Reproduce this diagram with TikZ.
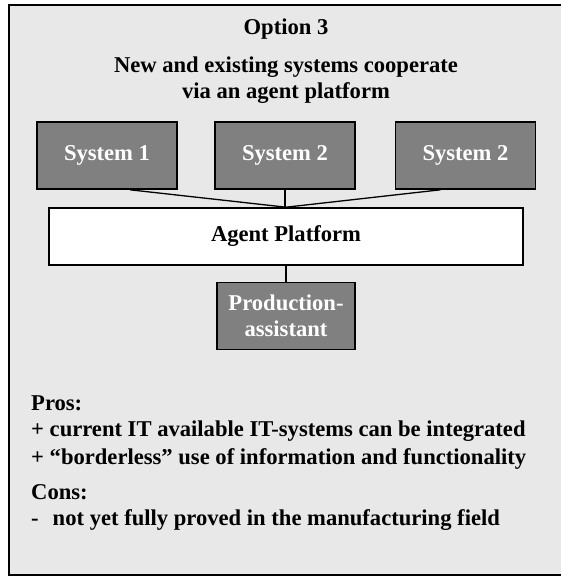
\documentclass[tikz,border=0pt]{standalone}
\usepackage{fontspec}
\setmainfont{Liberation Serif}
\usepackage{xcolor}
\usetikzlibrary{positioning}

\definecolor{panelgray}{HTML}{E8E8E8}
\definecolor{boxgray}{HTML}{808080}

\begin{document}
\begin{tikzpicture}[
  x=1pt, y=-1pt,
  font=\bfseries\fontsize{22.6}{26}\selectfont,
  sysbox/.style={draw, line width=1.6pt, fill=boxgray, text=white, align=center, minimum width=140pt, minimum height=67pt, inner sep=0pt},
  platbox/.style={draw, line width=1.6pt, fill=white, minimum width=474pt, minimum height=57pt, inner sep=0pt},
  txt/.style={anchor=base west, inner sep=0pt},
  link/.style={line width=1.3pt}
]
\useasboundingbox (0,0) rectangle (560,577);
\draw[line width=1.8pt, fill=panelgray] (9,5) rectangle (570,575);

\node[anchor=base, inner sep=0pt] (title) at (286,35) {Option 3};
\node[anchor=base, inner sep=0pt, align=center] (subtitle) at (286,99) {New and existing systems cooperate\\via an agent platform};

\node[sysbox] (sys1) at (107,155.5) {System 1};
\node[sysbox] (sys2) at (285,155.5) {System 2};
\node[sysbox] (sys3) at (465.5,155.5) {System 2};
\node[platbox] (platform) at (286,236.5) {Agent Platform};
\node[sysbox, minimum width=138pt, below=16pt of platform] (assist) {Production-\\assistant};

\draw[link] ([xshift=23pt]sys1.south) -- (platform.north);
\draw[link] (sys2.south) -- (sys2.south |- platform.north);
\draw[link] ([xshift=-25pt]sys3.south) -- (platform.north);
\draw[link] (assist.north) -- (assist.north |- platform.south);

\node[txt] (pros) at (31,410) {Pros:};
\node[txt] (pro1) at (31,436) {+ current IT available IT-systems can be integrated};
\node[txt] (pro2) at (31,464) {+ “borderless” use of information and functionality};
\node[txt] (cons) at (31,499) {Cons:};
\node[txt] (con1) at (31,525) {-\hspace{14pt}not yet fully proved in the manufacturing field};
\end{tikzpicture}
\end{document}
